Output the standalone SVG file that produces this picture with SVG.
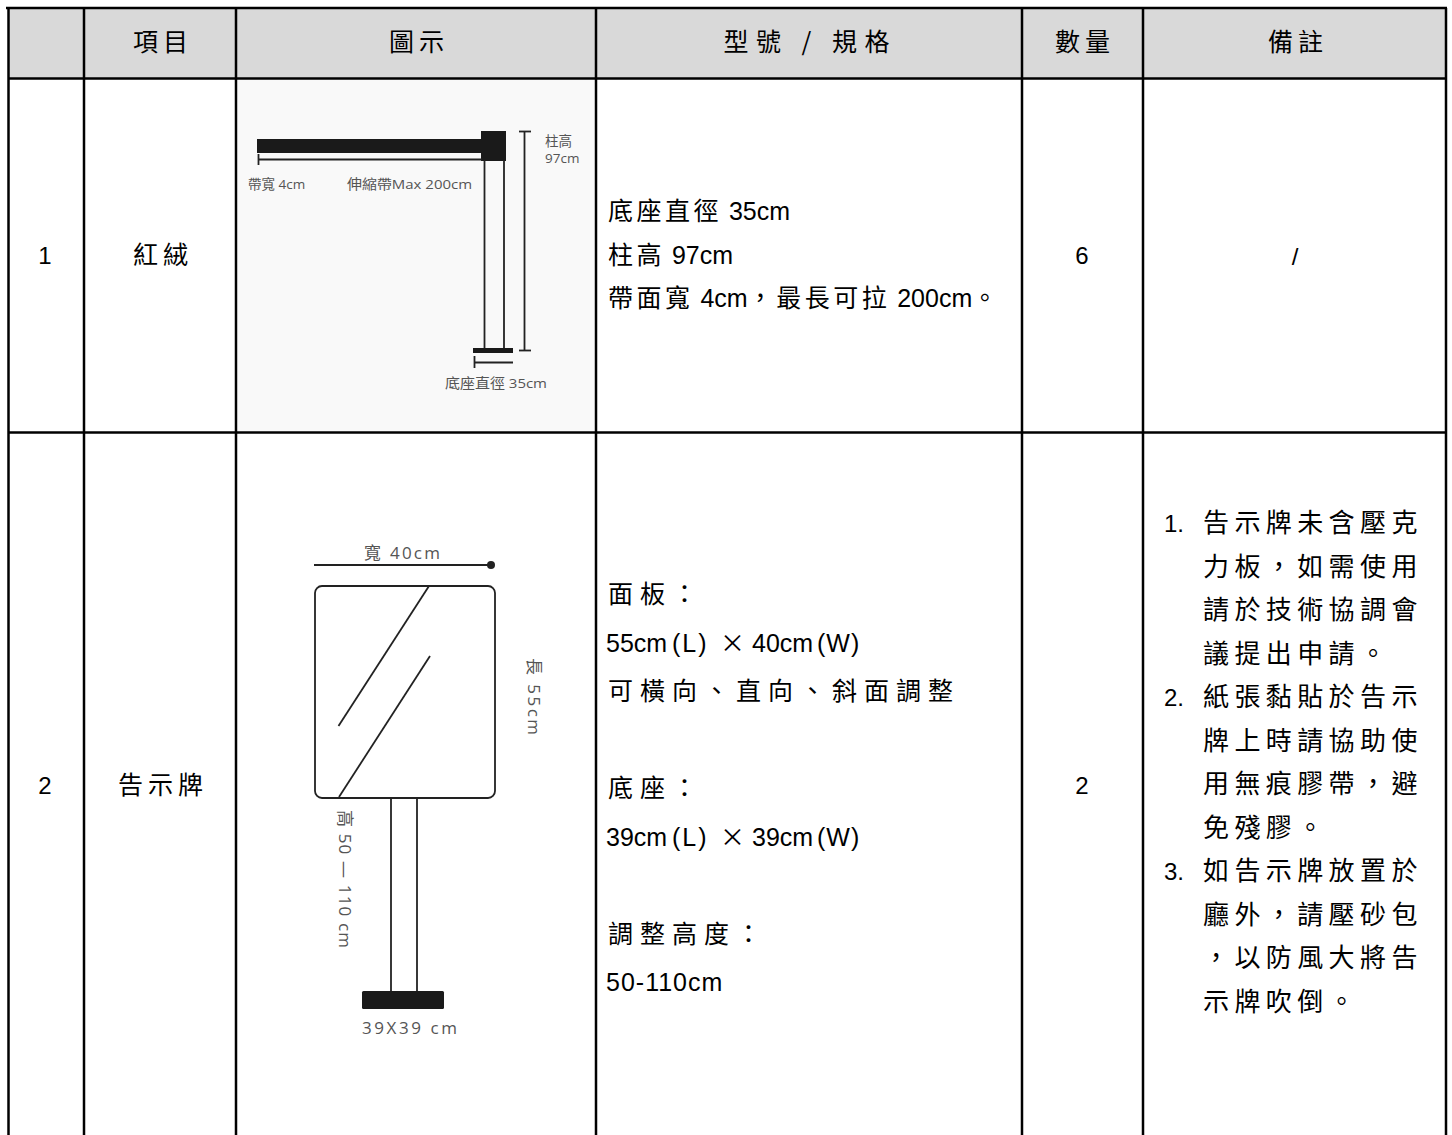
<svg xmlns="http://www.w3.org/2000/svg" width="1452" height="1135" viewBox="0 0 1452 1135">
<style>
.hd{font-family:"Noto Sans CJK TC","Liberation Sans",sans-serif;font-size:25px;fill:#000;text-anchor:middle;letter-spacing:5px}
.cell{font-family:"Noto Sans CJK TC","Liberation Sans",sans-serif;font-size:25px;fill:#000;text-anchor:middle;letter-spacing:5px}
.num{font-family:"Liberation Sans","Noto Sans CJK TC",sans-serif;font-size:24px;fill:#000;text-anchor:middle}
.spec{font-family:"Liberation Sans","Noto Sans CJK TC",sans-serif;font-size:25px;fill:#000}
.cj{font-family:"Noto Sans CJK TC",sans-serif}
.rm{font-family:"Noto Sans CJK TC","Liberation Sans",sans-serif;font-size:26px;fill:#000;letter-spacing:5.4px}
.rmn{font-family:"Liberation Sans",sans-serif;font-size:24px;fill:#000}
.lab{font-family:"Open Sans","Noto Sans CJK TC",sans-serif;font-size:13.5px;fill:#555}
.lab2{font-family:"Open Sans","Noto Sans CJK TC",sans-serif;font-size:17px;fill:#555}
.grid{stroke:#000;stroke-width:2.5;fill:none}
.ln{stroke:#222;stroke-width:1.8;fill:none}
</style>

<g id="table">
  <rect x="8" y="8" width="1438" height="70" fill="#d9d9d9"/>
  <rect x="238" y="80" width="356" height="351" fill="#f9f9f9"/>
  <line class="grid" x1="6" y1="8" x2="1447" y2="8" stroke-width="2"/>
  <line class="grid" x1="8" y1="78.5" x2="1446" y2="78.5" stroke-width="3"/>
  <line class="grid" x1="8" y1="432.5" x2="1446" y2="432.5" stroke-width="3"/>
  <line class="grid" x1="8.5" y1="8" x2="8.5" y2="1135"/>
  <line class="grid" x1="84" y1="8" x2="84" y2="1135"/>
  <line class="grid" x1="236" y1="8" x2="236" y2="1135"/>
  <line class="grid" x1="596" y1="8" x2="596" y2="1135"/>
  <line class="grid" x1="1022" y1="8" x2="1022" y2="1135"/>
  <line class="grid" x1="1143" y1="8" x2="1143" y2="1135"/>
  <line class="grid" x1="1446" y1="8" x2="1446" y2="1135"/>
</g>

<g id="header">
  <text class="hd" x="163" y="51">項目</text>
  <text class="hd" x="419" y="51">圖示</text>
  <text class="hd" x="809" y="51" textLength="171" lengthAdjust="spacing" letter-spacing="0">型號 / 規格</text>
  <text class="hd" x="1085" y="51">數量</text>
  <text class="hd" x="1298" y="51">備註</text>
</g>

<g id="row1">
  <text class="num" x="45" y="264">1</text>
  <text class="cell" x="163" y="264">紅絨</text>
  <g id="stanchion">
    <rect x="257" y="139" width="225" height="14" fill="#1a1a1a"/>
    <rect x="481" y="131" width="25" height="30" fill="#1a1a1a"/>
    <line class="ln" x1="258" y1="159.5" x2="482" y2="159.5" stroke-width="1.5"/>
    <line class="ln" x1="258.5" y1="154" x2="258.5" y2="165" stroke-width="2"/>
    <line class="ln" x1="484.5" y1="160" x2="484.5" y2="349"/>
    <line class="ln" x1="504" y1="160" x2="504" y2="349"/>
    <rect x="473" y="348" width="40" height="5" fill="#1a1a1a"/>
    <line class="ln" x1="474.5" y1="356" x2="474.5" y2="368" stroke-width="2"/>
    <line class="ln" x1="475" y1="362.5" x2="513" y2="362.5" stroke-width="1.5"/>
    <line class="ln" x1="524.5" y1="131.5" x2="524.5" y2="350.5" stroke-width="1.5"/>
    <line class="ln" x1="519" y1="131.5" x2="531" y2="131.5" stroke-width="2"/>
    <line class="ln" x1="519" y1="350.5" x2="531" y2="350.5" stroke-width="2"/>
    <text class="lab" x="545" y="146">柱高</text>
    <text class="lab" x="545" y="163">97cm</text>
    <text class="lab" x="248" y="189">帶寬 4cm</text>
    <text class="lab" x="347" y="189" textLength="125" lengthAdjust="spacingAndGlyphs">伸縮帶Max 200cm</text>
    <text class="lab" x="445" y="388" textLength="102" lengthAdjust="spacingAndGlyphs">底座直徑 35cm</text>
  </g>
  <text class="spec" x="608" y="220"><tspan class="cj" letter-spacing="3.5">底座直徑</tspan> 35cm</text>
  <text class="spec" x="608" y="264"><tspan class="cj" letter-spacing="3.5">柱高</tspan> 97cm</text>
  <text class="spec" x="608" y="307"><tspan class="cj" letter-spacing="3.5">帶面寬</tspan> 4cm<tspan class="cj" letter-spacing="3.5">，最長可拉</tspan> 200cm<tspan class="cj">。</tspan></text>
  <text class="num" x="1082" y="264">6</text>
  <text class="num" x="1295" y="265" font-size="30">/</text>
</g>

<g id="row2">
  <text class="num" x="45" y="794">2</text>
  <text class="cell" x="163" y="794">告示牌</text>
  <g id="sign">
    <text class="lab2" x="364" y="559" textLength="76" lengthAdjust="spacing">寬 40cm</text>
    <line class="ln" x1="314" y1="565" x2="489" y2="565"/>
    <circle cx="491" cy="565" r="4" fill="#222"/>
    <rect x="315" y="586" width="180" height="212" rx="7" ry="7" class="ln" stroke-width="2.2"/>
    <line class="ln" x1="429" y1="586" x2="338.5" y2="726" stroke-width="1.5"/>
    <line class="ln" x1="430" y1="656" x2="339" y2="797" stroke-width="1.5"/>
    <text class="lab2" font-size="18" transform="translate(528,658) rotate(90)" textLength="77" lengthAdjust="spacing">長 55cm</text>
    <text class="lab2" font-size="18" transform="translate(339,810) rotate(90)" textLength="138" lengthAdjust="spacing">高 50 — 110 cm</text>
    <line class="ln" x1="391" y1="798" x2="391" y2="991"/>
    <line class="ln" x1="417" y1="798" x2="417" y2="991"/>
    <rect x="362" y="991" width="82" height="18" rx="1.5" fill="#1a1a1a"/>
    <text class="lab2" x="362" y="1034" font-size="18" textLength="95" lengthAdjust="spacing">39X39 cm</text>
  </g>
  <text class="spec" x="608" y="603"><tspan class="cj" letter-spacing="7">面板：</tspan></text>
  <text class="spec" y="652"><tspan x="606">55cm</tspan><tspan x="672" letter-spacing="2">(L)</tspan><tspan x="720" class="cj">×</tspan><tspan x="752">40cm</tspan><tspan x="817" letter-spacing="1">(W)</tspan></text>
  <text class="spec" x="608" y="700"><tspan class="cj" letter-spacing="7">可橫向、直向、斜面調整</tspan></text>
  <text class="spec" x="608" y="797"><tspan class="cj" letter-spacing="7">底座：</tspan></text>
  <text class="spec" y="846"><tspan x="606">39cm</tspan><tspan x="672" letter-spacing="2">(L)</tspan><tspan x="720" class="cj">×</tspan><tspan x="752">39cm</tspan><tspan x="817" letter-spacing="1">(W)</tspan></text>
  <text class="spec" x="608" y="943"><tspan class="cj" letter-spacing="7">調整高度：</tspan></text>
  <text class="spec" x="606" y="991" letter-spacing="1">50-110cm</text>
  <text class="num" x="1082" y="794">2</text>
  <g id="remarks">
    <text class="rmn" x="1164" y="532">1.</text>
    <text class="rm" x="1203" y="532">告示牌未含壓克</text>
    <text class="rm" x="1203" y="575.5">力板，如需使用</text>
    <text class="rm" x="1203" y="619">請於技術協調會</text>
    <text class="rm" x="1203" y="662.5">議提出申請。</text>
    <text class="rmn" x="1164" y="706">2.</text>
    <text class="rm" x="1203" y="706">紙張黏貼於告示</text>
    <text class="rm" x="1203" y="749.5">牌上時請協助使</text>
    <text class="rm" x="1203" y="793">用無痕膠帶，避</text>
    <text class="rm" x="1203" y="836.5">免殘膠。</text>
    <text class="rmn" x="1164" y="880">3.</text>
    <text class="rm" x="1203" y="880">如告示牌放置於</text>
    <text class="rm" x="1203" y="923.5">廳外，請壓砂包</text>
    <text class="rm" x="1203" y="967">，以防風大將告</text>
    <text class="rm" x="1203" y="1010.5">示牌吹倒。</text>
  </g>
</g>
</svg>
